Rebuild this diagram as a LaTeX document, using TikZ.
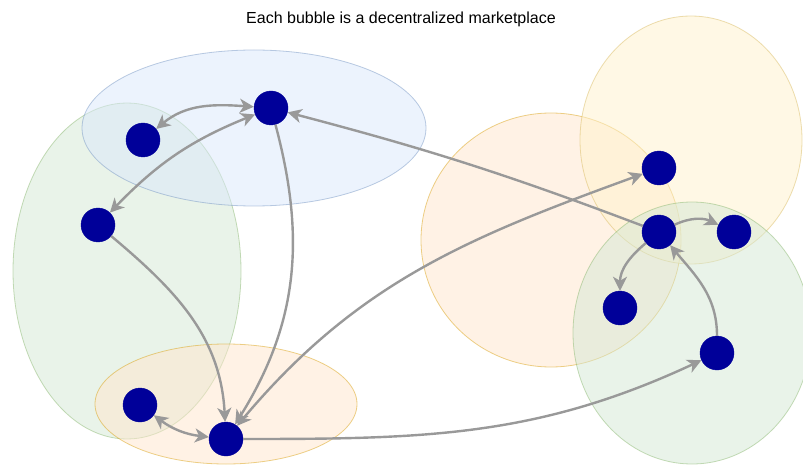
\documentclass[tikz,border=0pt]{standalone}
\usepackage{fontspec}
\setmainfont{Liberation Sans}
\usetikzlibrary{arrows.meta}
\definecolor{nodeblue}{RGB}{0,0,153}
\definecolor{linkgray}{RGB}{153,153,153}
\definecolor{bluefill}{HTML}{DAE8FC}
\definecolor{bluedraw}{HTML}{6C8EBF}
\definecolor{greenfill}{HTML}{D5E8D4}
\definecolor{greendraw}{HTML}{82B366}
\definecolor{orangefill}{HTML}{FFE6CC}
\definecolor{orangedraw}{HTML}{D79B00}
\definecolor{yellowfill}{HTML}{FFF2CC}
\definecolor{yellowdraw}{HTML}{D6B656}
\begin{document}
\begin{tikzpicture}[
  bubble/.style={fill opacity=0.5,draw opacity=0.45,line width=0.8pt},
  dot/.style={circle,fill=nodeblue,draw=nodeblue,minimum size=34pt,inner sep=0pt},
  link/.style={draw=linkgray,line width=2.4pt},
  fwd/.style={-{Stealth[length=14pt,width=14pt,inset=4pt]}},
  both/.style={{Stealth[length=14pt,width=14pt,inset=4pt]}-{Stealth[length=14pt,width=14pt,inset=4pt]}},
  title/.style={font=\fontsize{16}{19}\selectfont,text=black}]
\begin{scope}[x=1pt,y=-1pt]
\useasboundingbox (0,0) rectangle (803,465);
\fill[white] (0,0) rectangle (803,465);
% bubbles
\path[bubble,fill=greenfill,draw=greendraw] (127,271) ellipse [x radius=114pt,y radius=168pt];
\path[bubble,fill=bluefill,draw=bluedraw] (254,128) ellipse [x radius=172pt,y radius=78pt];
\path[bubble,fill=orangefill,draw=orangedraw] (226,404) ellipse [x radius=131pt,y radius=60pt];
\path[bubble,fill=orangefill,draw=orangedraw] (551,240) ellipse [x radius=130pt,y radius=127pt];
\path[bubble,fill=yellowfill,draw=yellowdraw] (691,140) ellipse [x radius=111pt,y radius=124pt];
\path[bubble,fill=greenfill,draw=greendraw] (692,333) ellipse [x radius=119pt,y radius=131pt];
% title
\node[title] (t) at (401,19) {Each bubble is a decentralized marketplace};
% nodes
\node[dot] (A) at (271,108) {};
\node[dot] (B) at (143,140) {};
\node[dot] (C) at (98,225) {};
\node[dot] (D) at (140,405) {};
\node[dot] (E) at (226,439) {};
\node[dot] (F) at (659,168) {};
\node[dot] (G) at (659,232) {};
\node[dot] (H) at (734,232) {};
\node[dot] (I) at (620,308) {};
\node[dot] (J) at (717,353) {};
\end{scope}
% links
\draw[link,both] (B) to[out=40,in=176] (A);
\draw[link,both] (C) to[bend left=12] (A);
\draw[link,fwd] (A) to[out=-75,in=58] (E);
\draw[link,fwd] (C) to[out=-40,in=93] (E);
\draw[link,both] (D) to[bend right=15] (E);
\draw[link,both] (E) to[out=50,in=200] (F);
\draw[link,fwd] (G) to[bend right=3] (A);
\draw[link,fwd] (G) to[bend left=25] (H);
\draw[link,fwd] (G) to[out=-140,in=90] (I);
\draw[link,fwd] (J) to[out=90,in=-50] (G);
\draw[link,fwd] (E) to[out=0,in=205] (J);
\end{tikzpicture}
\end{document}
